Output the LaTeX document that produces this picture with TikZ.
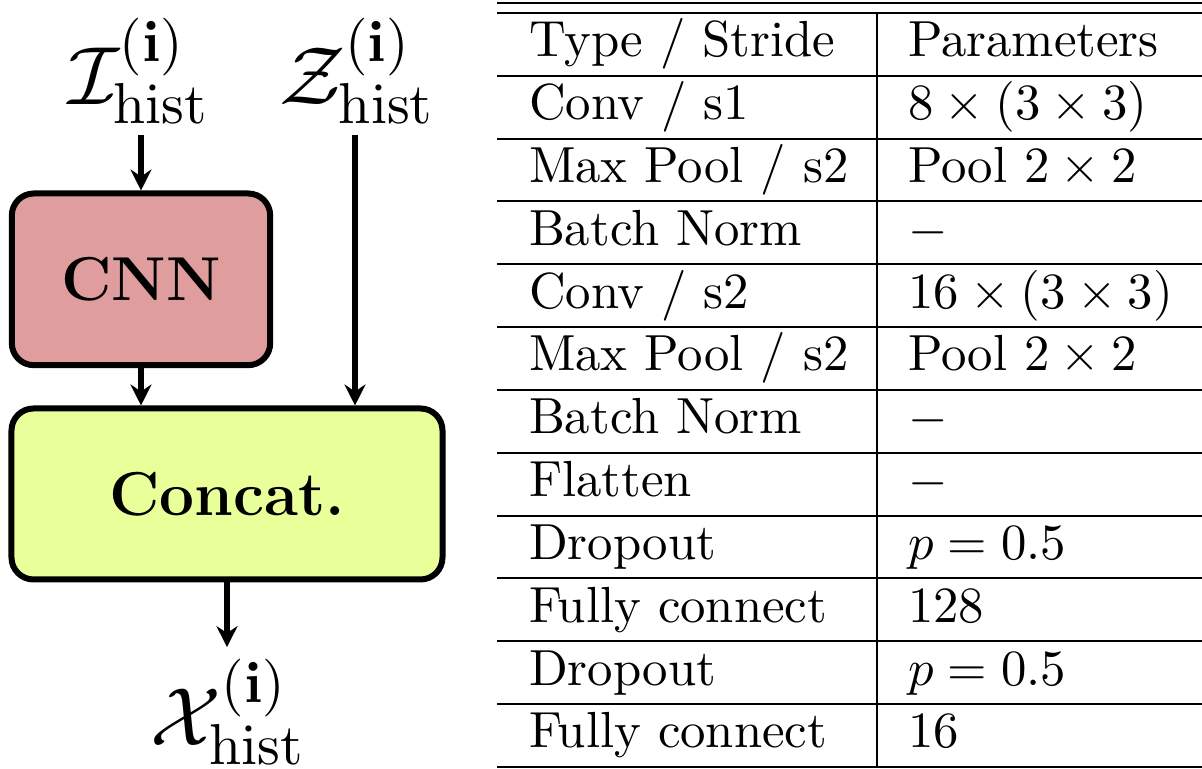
\RequirePackage{fix-cm}
\documentclass[tikz,border=0pt]{standalone}
\usetikzlibrary{arrows.meta}
\definecolor{cnnred}{RGB}{223,157,157}
\definecolor{catyellow}{RGB}{233,255,153}
\begin{document}
\begin{tikzpicture}[x=0.2pt,y=-0.2pt,
  box/.style={draw, line width=1.2pt, rounded corners=4.4pt, inner sep=0pt, font=\fontsize{12.4}{15}\selectfont\bfseries},
  arr/.style={line width=1.2pt, -{Stealth[length=4.2pt,width=4.2pt,inset=1.4pt]}},
  lbl/.style={inner sep=0pt, font=\fontsize{16.5}{20}\selectfont},
  rule/.style={line width=0.4pt},
  cell/.style={anchor=base west, inner sep=0pt, font=\fontsize{10.15}{12}\selectfont}]
\useasboundingbox (0,0) rectangle (1202,769);
% left diagram
\node[lbl, anchor=south] (I) at (139,125) {$\mathcal{I}^{(\mathbf{i})}_{\mathrm{hist}}$};
\node[lbl, anchor=south] (Z) at (357,125) {$\mathcal{Z}^{(\mathbf{i})}_{\mathrm{hist}}$};
\node[box, fill=cnnred, minimum width=51.68pt, minimum height=34.34pt] (cnn) at (141,279.35) {CNN};
\node[box, fill=catyellow, minimum width=86.2pt, minimum height=34.2pt] (cat) at (227,494) {Concat.};
\node[lbl, anchor=south] (X) at (228,766) {$\mathcal{X}^{(\mathbf{i})}_{\mathrm{hist}}$};
\draw[arr, shorten <=2pt] (I.south -| cnn.north) -- (cnn.north);
\draw[arr, shorten <=2pt] (Z.south -| 355,0) -- (cat.north -| 355,0);
\draw[arr] (cnn.south) -- (cnn.south |- cat.north);
\draw[arr, shorten >=2.2pt] (cat.south) -- (cat.south |- X.north);
% table
\coordinate (tl) at (497,3);
\coordinate (tr) at (1202,3);
\draw[rule] (tl) -- (tr);
\foreach \k in {0,...,12} {
  \pgfmathsetmacro{\yy}{13+62.833*\k}
  \draw[rule] (497,\yy) -- (1202,\yy);
}
\coordinate (vtop) at (877,13);
\coordinate (vbot) at (877,767);
\draw[rule] (vtop) -- (vbot);
\foreach \k/\a/\b in {
  0/{Type / Stride}/{Parameters},
  1/{Conv / s1}/{$8\times(3\times3)$},
  2/{Max Pool / s2}/{Pool $2\times2$},
  3/{Batch Norm}/{$-$},
  4/{Conv / s2}/{$16\times(3\times3)$},
  5/{Max Pool / s2}/{Pool $2\times2$},
  6/{Batch Norm}/{$-$},
  7/{Flatten}/{$-$},
  8/{Dropout}/{$p=0.5$},
  9/{Fully connect}/{128},
  10/{Dropout}/{$p=0.5$},
  11/{Fully connect}/{16}} {
  \pgfmathsetmacro{\yy}{13+62.833*(\k+1)-19}
  \node[cell] (a\k) at (528,\yy) {\a};
  \node[cell] (b\k) at (907,\yy) {\b};
}
\end{tikzpicture}
\end{document}
